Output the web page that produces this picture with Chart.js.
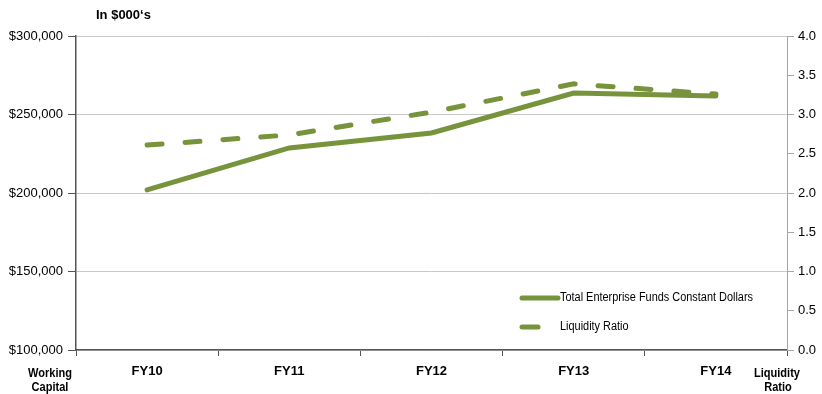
<!DOCTYPE html>
<html>
<head>
<meta charset="utf-8">
<script src="https://cdn.jsdelivr.net/npm/chart.js@4.4.1/dist/chart.umd.min.js"></script>
<style>
  html, body { margin: 0; padding: 0; background: #ffffff; }
  #wrap { width: 822px; height: 394px; position: relative; }
</style>
</head>
<body>
<div id="wrap"><canvas id="c" width="822" height="394"></canvas></div>
<script>
// Fiscal years shown on the category axis
const categories = ['FY10', 'FY11', 'FY12', 'FY13', 'FY14'];
// Working capital, total enterprise funds in constant dollars
const workingCapital = [202000, 228700, 238200, 263700, 261800];
// Liquidity ratio (right axis)
const liquidityRatio = [2.61, 2.74, 3.03, 3.39, 3.26];
// Axis ranges
const capitalTicks = [100000, 150000, 200000, 250000, 300000];
const ratioTicks = [0, 0.5, 1, 1.5, 2, 2.5, 3, 3.5, 4];

const GREEN = '#77933c';
const FONT = '"Liberation Sans", Arial, sans-serif';

// draw text slightly condensed
function narrowText(ctx, text, x, y, squeeze) {
  const w = ctx.measureText(text).width;
  ctx.fillText(text, x, y, w * squeeze);
}

const annotations = {
  id: 'annotations',
  afterDraw(chart) {
    const ctx = chart.ctx;
    ctx.save();
    ctx.fillStyle = '#000';
    ctx.font = 'bold 13px ' + FONT;
    ctx.textBaseline = 'middle';
    ctx.textAlign = 'left';
    ctx.fillText('In $000\u2018s', 96, 15);
    ctx.font = 'bold 12px ' + FONT;
    ctx.textAlign = 'center';
    narrowText(ctx, 'Working', 50, 374, 0.92);
    narrowText(ctx, 'Capital', 50, 388, 0.92);
    narrowText(ctx, 'Liquidity', 777, 374, 0.92);
    narrowText(ctx, 'Ratio', 778, 388, 0.92);

    // legend inside the plot area
    const items = chart.data.datasets;
    const x0 = 520, rows = [298, 327];
    items.forEach((ds, i) => {
      const y = rows[i];
      ctx.strokeStyle = ds.borderColor;
      ctx.lineWidth = 5;
      ctx.lineCap = 'round';
      ctx.beginPath();
      if (ds.borderDash && ds.borderDash.length) {
        ctx.moveTo(x0 + 2, y); ctx.lineTo(x0 + 18, y);
      } else {
        ctx.moveTo(x0 + 2, y); ctx.lineTo(x0 + 38, y);
      }
      ctx.stroke();
      ctx.fillStyle = '#000';
      ctx.font = '12px ' + FONT;
      ctx.textAlign = 'left';
      ctx.textBaseline = 'middle';
      narrowText(ctx, ds.label, 560, y, 0.91);
    });
    ctx.restore();
  }
};

new Chart(document.getElementById('c'), {
  type: 'line',
  data: {
    labels: categories,
    datasets: [
      {
        label: 'Total Enterprise Funds Constant Dollars',
        data: workingCapital,
        yAxisID: 'y',
        borderColor: GREEN,
        borderWidth: 5,
        borderCapStyle: 'round',
        borderJoinStyle: 'miter',
        pointRadius: 0,
        tension: 0,
        fill: false
      },
      {
        label: 'Liquidity Ratio',
        data: liquidityRatio,
        yAxisID: 'y2',
        borderColor: GREEN,
        borderWidth: 5,
        borderDash: [15, 23],
        borderCapStyle: 'round',
        pointRadius: 0,
        tension: 0,
        fill: false
      }
    ]
  },
  options: {
    responsive: false,
    animation: false,
    devicePixelRatio: 1,
    layout: { padding: { top: 36, left: 0, right: 0, bottom: 0 } },
    plugins: { legend: { display: false }, tooltip: { enabled: false } },
    scales: {
      x: {
        type: 'category',
        offset: true,
        grid: { offset: true, drawOnChartArea: false, tickLength: 6, tickColor: '#555', tickWidth: 1 },
        border: { color: '#555', width: 1.5 },
        ticks: { color: '#000', font: { family: FONT, size: 13, weight: 'bold' }, padding: 8, maxRotation: 0 },
        afterFit(s) { s.height = 44; }
      },
      y: {
        position: 'left',
        min: 100000, max: 300000,
        afterBuildTicks(s) { s.ticks = capitalTicks.map(v => ({ value: v })); },
        grid: { color: '#c8c8c8', lineWidth: 1, tickLength: 8, tickColor: '#555' },
        border: { color: '#555', width: 1.5 },
        ticks: {
          color: '#000', padding: 5,
          font: { family: FONT, size: 13 },
          callback: v => '$' + v.toLocaleString('en-US')
        },
        afterFit(s) { s.width = 76; }
      },
      y2: {
        position: 'right',
        min: 0, max: 4,
        afterBuildTicks(s) { s.ticks = ratioTicks.map(v => ({ value: v })); },
        grid: { drawOnChartArea: false, tickLength: 7, tickColor: '#a6a6a6' },
        border: { color: '#a6a6a6', width: 1 },
        ticks: {
          color: '#000', padding: 4,
          font: { family: FONT, size: 13 },
          callback: v => v.toFixed(1)
        },
        afterFit(s) { s.width = 35; }
      }
    }
  },
  plugins: [annotations]
});
</script>
</body>
</html>
